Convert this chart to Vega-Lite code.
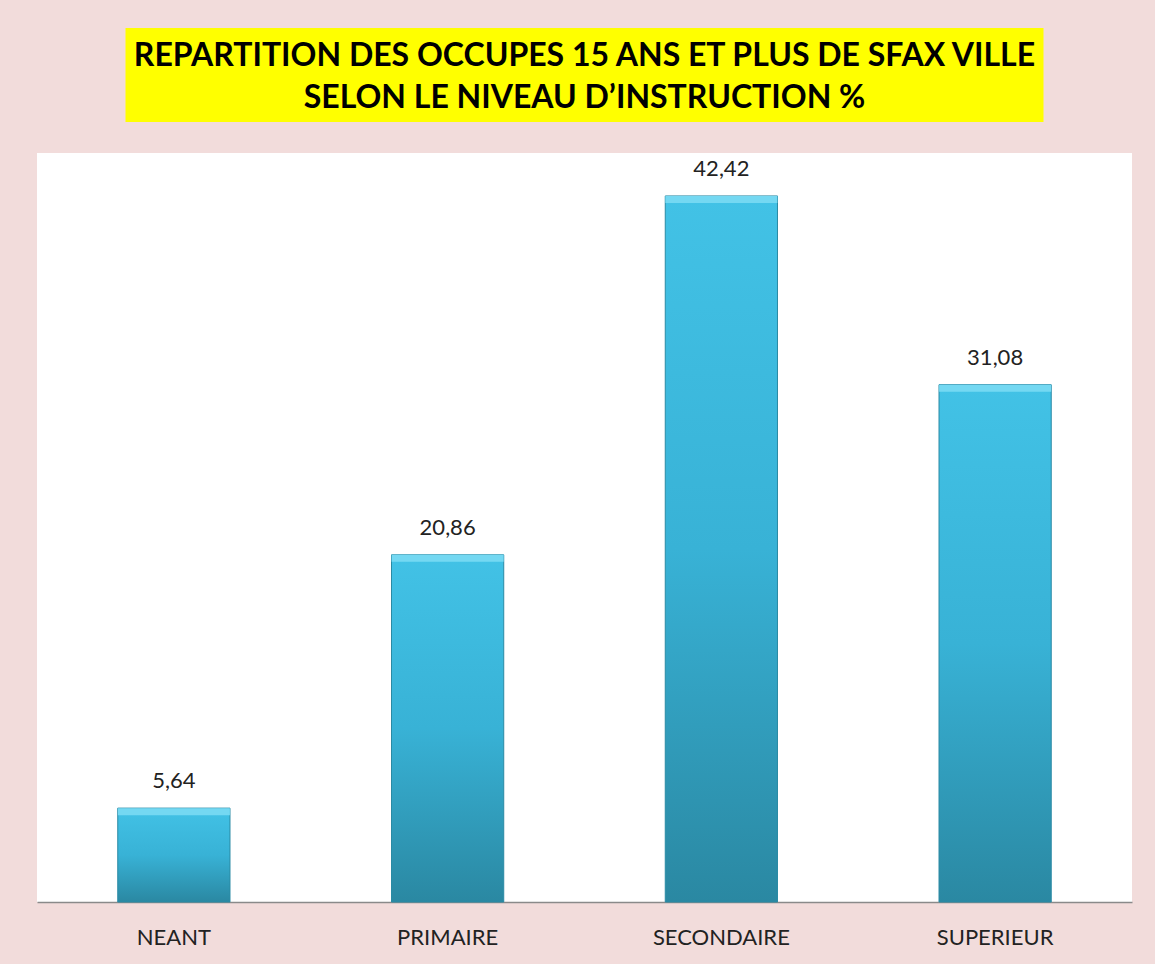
{
  "$schema": "https://vega.github.io/schema/vega-lite/v6.json",
  "background": "#f2dcdb",
  "padding": {"left": 37, "right": 23, "top": 28, "bottom": 16},
  "autosize": {"type": "pad"},
  "spacing": 31,
  "center": true,
  "config": {
    "view": {"stroke": null},
    "font": "Lato",
    "locale": {"number": {"decimal": ",", "thousands": " ", "grouping": [3], "currency": ["", " €"]}}
  },
  "vconcat": [
    {
      "width": 918,
      "height": 94,
      "view": {"fill": "#ffff00", "stroke": null},
      "data": {"values": [{"line": 1}]},
      "mark": {
        "type": "text",
        "text": ["REPARTITION DES OCCUPES 15 ANS ET PLUS DE SFAX VILLE", "SELON LE NIVEAU D’INSTRUCTION %"],
        "font": "Lato",
        "fontSize": 32,
        "fontWeight": "bold",
        "lineHeight": 42,
        "align": "center",
        "baseline": "middle",
        "dy": -19,
        "color": "#000000"
      },
      "encoding": {}
    },
    {
      "width": 1095,
      "height": 749,
      "view": {"fill": "#ffffff", "stroke": null},
      "data": {
        "values": [
          {"niveau": "NEANT", "pct": 5.64},
          {"niveau": "PRIMAIRE", "pct": 20.86},
          {"niveau": "SECONDAIRE", "pct": 42.42},
          {"niveau": "SUPERIEUR", "pct": 31.08}
        ]
      },
      "encoding": {
        "x": {
          "field": "niveau",
          "type": "nominal",
          "sort": null,
          "scale": {"paddingInner": 0.59, "paddingOuter": 0.295},
          "axis": {
            "title": null,
            "labelAngle": 0,
            "labelFontSize": 22,
            "labelColor": "#222222",
            "labelFont": "Lato",
            "labelPadding": 25,
            "ticks": false,
            "domainColor": "#8a8a8a",
            "domainWidth": 1.5
          }
        },
        "y": {
          "field": "pct",
          "type": "quantitative",
          "scale": {"domain": [0, 45]},
          "axis": null
        }
      },
      "layer": [
        {
          "mark": {
            "type": "bar",
            "fill": {
              "gradient": "linear",
              "x1": 0, "y1": 0, "x2": 0, "y2": 1,
              "stops": [
                {"offset": 0, "color": "#42c2e6"},
                {"offset": 0.5, "color": "#38b2d6"},
                {"offset": 1, "color": "#2a88a2"}
              ]
            },
            "stroke": "#2a8aa4",
            "strokeWidth": 1
          }
        },
        {
          "mark": {
            "type": "tick",
            "thickness": 7,
            "size": 112,
            "yOffset": 3.5,
            "color": "#74d8f2",
            "opacity": 1
          }
        },
        {
          "mark": {
            "type": "text",
            "fontSize": 22,
            "font": "Lato",
            "color": "#222222",
            "baseline": "middle",
            "dy": -27
          },
          "encoding": {
            "text": {"field": "pct", "type": "quantitative", "format": ".2f"}
          }
        }
      ]
    }
  ]
}
